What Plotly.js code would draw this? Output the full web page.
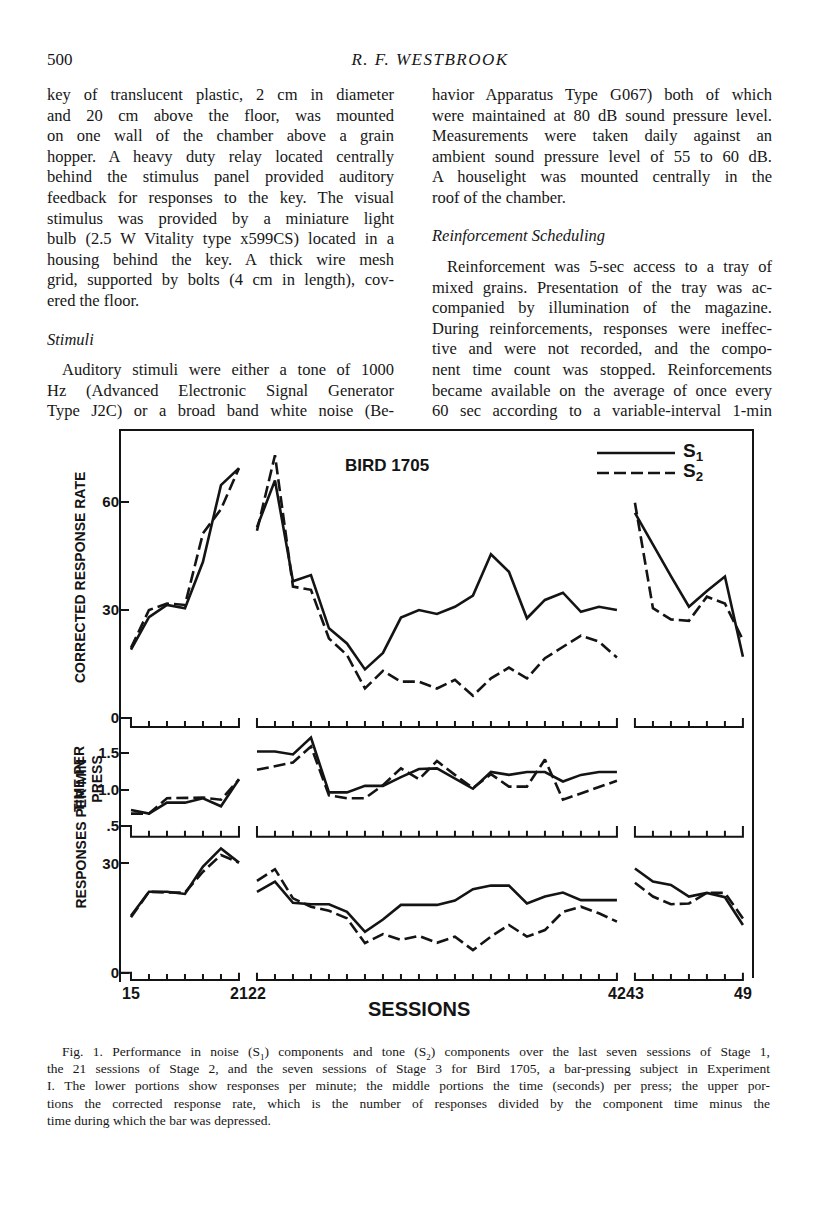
<!DOCTYPE html>
<html>
<head>
<meta charset="utf-8">
<script src="https://cdn.plot.ly/plotly-3.0.1.min.js"></script>
<style>
  html, body { margin: 0; padding: 0; background: #fff; }
  #page { position: relative; width: 816px; height: 1207px; overflow: hidden;
          font-family: "Liberation Serif", "Times New Roman", serif; color: #161616; }
  #chart { position: absolute; left: 0; top: 0; width: 816px; height: 1207px; }
  .txt { position: absolute; font-size: 16.5px; line-height: 20.6px; }
  .txt div { text-align: justify; text-align-last: justify; height: 20.6px; }
  .txt div.last { text-align-last: left; }
  .txt div.ind { text-indent: 15px; }
  .txt div.head { font-style: italic; text-align-last: left; }
  #hdr-num { position: absolute; left: 47px; top: 50px; font-size: 17px; }
  #hdr-name { position: absolute; left: 300px; width: 260px; top: 50px; font-size: 17px;
              font-style: italic; text-align: center; letter-spacing: 1.5px; }
  #caption { position: absolute; left: 47px; width: 723px; top: 1043px; font-size: 13.5px; line-height: 17.2px; }
  #caption div { text-align: justify; text-align-last: justify; height: 17.2px; }
  #caption div.last { text-align-last: left; }
  #caption div.ind { text-indent: 15px; }
</style>
</head>
<body>
<div id="page">
  <div id="chart"></div>

  <div id="hdr-num">500</div>
  <div id="hdr-name">R. F. WESTBROOK</div>

  <div class="txt" style="left:47px; width:347px; top:85px;">
    <div>key of translucent plastic, 2 cm in diameter</div>
    <div>and 20 cm above the floor, was mounted</div>
    <div>on one wall of the chamber above a grain</div>
    <div>hopper. A heavy duty relay located centrally</div>
    <div>behind the stimulus panel provided auditory</div>
    <div>feedback for responses to the key. The visual</div>
    <div>stimulus was provided by a miniature light</div>
    <div>bulb (2.5 W Vitality type x599CS) located in a</div>
    <div>housing behind the key. A thick wire mesh</div>
    <div>grid, supported by bolts (4 cm in length), cov-</div>
    <div class="last">ered the floor.</div>
  </div>
  <div class="txt" style="left:47px; width:347px; top:330px;">
    <div class="head">Stimuli</div>
  </div>
  <div class="txt" style="left:47px; width:347px; top:360px;">
    <div class="ind">Auditory stimuli were either a tone of 1000</div>
    <div>Hz (Advanced Electronic Signal Generator</div>
    <div>Type J2C) or a broad band white noise (Be-</div>
  </div>

  <div class="txt" style="left:432px; width:340px; top:85px;">
    <div>havior Apparatus Type G067) both of which</div>
    <div>were maintained at 80 dB sound pressure level.</div>
    <div>Measurements were taken daily against an</div>
    <div>ambient sound pressure level of 55 to 60 dB.</div>
    <div>A houselight was mounted centrally in the</div>
    <div class="last">roof of the chamber.</div>
  </div>
  <div class="txt" style="left:432px; width:340px; top:226px;">
    <div class="head">Reinforcement Scheduling</div>
  </div>
  <div class="txt" style="left:432px; width:340px; top:257px;">
    <div class="ind">Reinforcement was 5-sec access to a tray of</div>
    <div>mixed grains. Presentation of the tray was ac-</div>
    <div>companied by illumination of the magazine.</div>
    <div>During reinforcements, responses were ineffec-</div>
    <div>tive and were not recorded, and the compo-</div>
    <div>nent time count was stopped. Reinforcements</div>
    <div>became available on the average of once every</div>
    <div>60 sec according to a variable-interval 1-min</div>
  </div>

  <div id="caption">
    <div class="ind">Fig. 1. Performance in noise (S<sub style="font-size:9px">1</sub>) components and tone (S<sub style="font-size:9px">2</sub>) components over the last seven sessions of Stage 1,</div>
    <div>the 21 sessions of Stage 2, and the seven sessions of Stage 3 for Bird 1705, a bar-pressing subject in Experiment</div>
    <div>I. The lower portions show responses per minute; the middle portions the time (seconds) per press; the upper por-</div>
    <div>tions the corrected response rate, which is the number of responses divided by the component time minus the</div>
    <div class="last">time during which the bar was depressed.</div>
  </div>
</div>

<script>
// sessions 15-21 (stage 1), 22-42 (stage 2), 43-49 (stage 3)
const sessions = [15, 16, 17, 18, 19, 20, 21,
    22, 23, 24, 25, 26, 27, 28, 29, 30, 31, 32, 33, 34, 35, 36, 37, 38, 39, 40, 41, 42,
    43, 44, 45, 46, 47, 48, 49];
const stageEnds = [21, 42];
const xTicks = [15, 21, 22, 42, 43, 49];

// corrected response rate
const rateS1 = [19, 28, 31.4, 30.5, 43.4, 64.7, 69.4,
    53, 66, 38, 39.7, 24.9, 20.7, 13.5, 18.1, 27.9, 30, 28.9, 30.9, 34, 45.5, 40.6, 27.7, 32.8, 34.8, 29.5, 30.9, 30,
    57, 48, 39.4, 30.9, 35.3, 39.3, 17];
const rateS2 = [19.5, 30, 31.8, 31.4, 51.3, 58, 69.4,
    52, 73, 36.5, 35.6, 22.1, 17.5, 8.2, 13.1, 10.1, 10.1, 8.2, 10.6, 6.2, 11, 14, 11, 16.6, 19.8, 22.9, 21.2, 16.8,
    59.8, 30.5, 27.4, 27, 33.7, 31.8, 21.7];

// time per press (sec)
const timeS1 = [0.72, 0.67, 0.82, 0.82, 0.88, 0.77, 1.14,
    1.52, 1.52, 1.48, 1.71, 0.96, 0.96, 1.05, 1.05, 1.17, 1.28, 1.29, 1.15, 1.01, 1.24, 1.20, 1.24, 1.24, 1.11, 1.20, 1.24, 1.24,
    null, null, null, null, null, null, null];
const timeS2 = [0.67, 0.67, 0.88, 0.88, 0.89, 0.86, 1.14,
    1.27, 1.32, 1.37, 1.59, 0.92, 0.88, 0.88, 1.06, 1.29, 1.14, 1.39, 1.20, 1.02, 1.21, 1.04, 1.04, 1.41, 0.86, 0.95, 1.04, 1.12,
    null, null, null, null, null, null, null];

// responses per minute
const rpmS1 = [15.6, 22.2, 22.2, 21.6, 29.1, 34.1, 30.2,
    22.2, 25, 19.2, 18.8, 18.8, 16.7, 11.2, 14.6, 18.6, 18.6, 18.6, 19.8, 22.9, 23.9, 23.9, 19.0, 20.9, 22, 19.9, 19.9, 19.9,
    28.6, 25, 24.1, 20.9, 21.9, 20.7, 13.1];
const rpmS2 = [15.2, 22.2, 22, 22, 27.7, 32.3, 30.2,
    25.2, 28.4, 20.4, 18.1, 17, 14.9, 8.1, 10.6, 9.0, 10.1, 8.2, 9.9, 6.2, 9.9, 13.1, 9.9, 11.7, 16.7, 18.1, 16.3, 14.0,
    24.7, 20.9, 18.8, 19.0, 21.9, 21.9, 14.9];

const ink = '#141414';
const W = 816, H = 1207;
const px = v => v / W;          // page pixel -> paper x
const py = v => 1 - v / H;      // page pixel -> paper y
const xRange = [14.39, 49.56];

// break the line between stages
function withGaps(values) {
    let out = [];
    sessions.forEach((s, i) => {
        out.push(values[i]);
        if (stageEnds.includes(s)) out.push(null);
    });
    return out;
}
const xs = withGaps(sessions);

function series(values, axis, dashed) {
    return {
        x: xs, y: withGaps(values), xaxis: 'x', yaxis: axis,
        mode: 'lines', type: 'scatter', connectgaps: false, hoverinfo: 'skip',
        line: { color: ink, width: 2.6, dash: dashed ? '12px,5px' : 'solid' }
    };
}

// stage groups of sessions
let stages = [[]];
sessions.forEach(s => {
    stages[stages.length - 1].push(s);
    if (stageEnds.includes(s)) stages.push([]);
});

// broken session axis drawn along the bottom of each panel
function baseline(axis, b, t, z) {
    let x = [xRange[0]], y = [z];
    stages.forEach(st => {
        let first = st[0], last = st[st.length - 1];
        x.push(first, first); y.push(z, b);
        st.slice(1, -1).forEach(s => { x.push(s, s, s); y.push(b, t, b); });
        x.push(last, last, null); y.push(b, z, null);
    });
    return {
        x: x, y: y, xaxis: 'x', yaxis: axis, mode: 'lines', type: 'scatter',
        hoverinfo: 'skip', line: { color: ink, width: 2 }
    };
}

let data = [
    baseline('y', -2.5, -0.85, 0),
    baseline('y2', 0.353, 0.435, 0.5),
    baseline('y3', -2.0, -0.35, 0),
    series(rateS1, 'y', false), series(rateS2, 'y', true),
    series(timeS1, 'y2', false), series(timeS2, 'y2', true),
    series(rpmS1, 'y3', false), series(rpmS2, 'y3', true)
];

const bold = { family: 'Liberation Sans, Arial, sans-serif', color: ink, weight: 'bold' };
const yBase = {
    showgrid: false, zeroline: false, showline: false, anchor: 'x',
    ticks: 'inside', ticklen: 9, tickwidth: 2, tickcolor: ink,
    tickmode: 'array', tickfont: Object.assign({ size: 15 }, bold)
};

let layout = {
    width: W, height: H,
    margin: { l: 0, r: 0, t: 0, b: 0 },
    paper_bgcolor: 'rgba(0,0,0,0)', plot_bgcolor: 'rgba(0,0,0,0)',
    showlegend: false,
    xaxis: {
        domain: [px(120), px(753)], range: xRange, anchor: 'y3',
        tickmode: 'array', tickvals: xTicks, ticktext: xTicks.map(String), tickangle: 0,
        ticks: '', showgrid: false, zeroline: false, showline: false,
        tickfont: Object.assign({ size: 16 }, bold)
    },
    yaxis: Object.assign({}, yBase, {
        domain: [py(730), py(430)], range: [-3.333, 80],
        tickvals: [0, 30, 60], ticktext: ['0', '30', '60']
    }),
    yaxis2: Object.assign({}, yBase, {
        domain: [py(839), py(733)], range: [0.322, 1.774],
        tickvals: [0.5, 1.0, 1.5], ticktext: ['.5', '1.0', '1.5']
    }),
    yaxis3: Object.assign({}, yBase, {
        domain: [py(982), py(842)], range: [-2.55, 35.86],
        tickvals: [0, 30], ticktext: ['0', '30']
    }),
    shapes: [
        // frame: left axis, top, right side
        { type: 'path', xref: 'paper', yref: 'paper',
          path: `M${px(120)},${py(982)} L${px(120)},${py(430)} L${px(753)},${py(430)} L${px(753)},${py(978)}`,
          line: { color: ink, width: 2 } },
        // key lines
        { type: 'line', xref: 'paper', yref: 'paper', x0: px(597), x1: px(675), y0: py(453), y1: py(453),
          line: { color: ink, width: 2.4 } },
        { type: 'line', xref: 'paper', yref: 'paper', x0: px(597), x1: px(675), y0: py(473), y1: py(473),
          line: { color: ink, width: 2.4, dash: '12px,5px' } }
    ],
    annotations: [
        { text: 'BIRD 1705', xref: 'paper', yref: 'paper', x: px(387), y: py(465),
          showarrow: false, font: Object.assign({ size: 17 }, bold) },
        { text: 'S<sub>1</sub>', xref: 'paper', yref: 'paper', x: px(681), y: py(452), xanchor: 'left',
          showarrow: false, font: Object.assign({ size: 19 }, bold) },
        { text: 'S<sub>2</sub>', xref: 'paper', yref: 'paper', x: px(681), y: py(472), xanchor: 'left',
          showarrow: false, font: Object.assign({ size: 19 }, bold) },
        { text: 'CORRECTED RESPONSE RATE', xref: 'paper', yref: 'paper', x: px(70), y: py(578),
          textangle: -90, showarrow: false, font: Object.assign({ size: 14 }, bold) },
        { text: 'TIME PER<br>PRESS', xref: 'paper', yref: 'paper', x: px(69), y: py(779),
          textangle: -90, showarrow: false, font: Object.assign({ size: 14 }, bold) },
        { text: 'RESPONSES PER MIN', xref: 'paper', yref: 'paper', x: px(70), y: py(911),
          textangle: -90, showarrow: false, font: Object.assign({ size: 14 }, bold) },
        { text: 'SESSIONS', xref: 'paper', yref: 'paper', x: px(419), y: py(1022),
          showarrow: false, font: Object.assign({ size: 20 }, bold) }
    ]
};

Plotly.newPlot('chart', data, layout, { staticPlot: true, displayModeBar: false });
</script>
</body>
</html>
